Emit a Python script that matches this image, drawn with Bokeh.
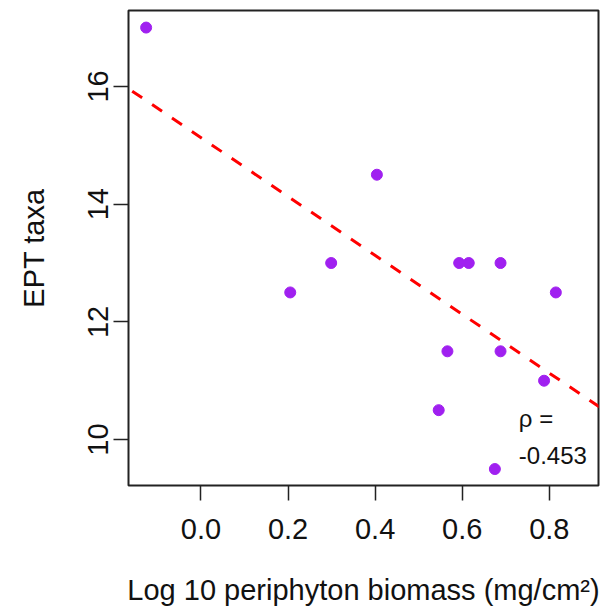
from bokeh.plotting import figure
from bokeh.models import Range1d, FixedTicker, Slope, Label
from bokeh.embed import file_html
from bokeh.resources import INLINE

# Data
biomass_log10 = [-0.126, 0.205, 0.299, 0.404, 0.546, 0.566, 0.593, 0.615,
                 0.675, 0.688, 0.688, 0.788, 0.815]
ept_taxa = [17.0, 12.5, 13.0, 14.5, 10.5, 11.5, 13.0, 13.0,
            9.5, 13.0, 11.5, 11.0, 12.5]

# Fitted trend line
fit_intercept = 15.13
fit_slope = -5.0

x_ticks = [0.0, 0.2, 0.4, 0.6, 0.8]
x_tick_labels = ["0.0", "0.2", "0.4", "0.6", "0.8"]
y_ticks = [10, 12, 14, 16]
y_tick_labels = ["10", "12", "14", "16"]

rho_label = "\u03c1 ="
rho_value = "-0.453"

FONT = "Liberation Sans"

p = figure(width=604, height=614, output_backend="svg", toolbar_location=None,
           x_range=Range1d(-0.1665, 0.913), y_range=Range1d(9.22, 17.29),
           min_border_left=128, min_border_right=6, min_border_top=10,
           min_border_bottom=129)

p.grid.visible = False
p.outline_line_color = "#222222"
p.outline_line_width = 2
p.background_fill_color = "white"
p.border_fill_color = "white"

p.add_layout(Slope(gradient=fit_slope, y_intercept=fit_intercept,
                   line_color="#FF0000", line_width=3, line_dash="12 12"))

p.scatter(biomass_log10, ept_taxa, size=11, color="#A020F0", line_color="#A020F0")

p.add_layout(Label(x=0.730, y=10.36, text=rho_label, text_font=FONT,
                   text_font_size="24px", text_baseline="middle",
                   text_color="#111111"))
p.add_layout(Label(x=0.730, y=9.73, text=rho_value, text_font=FONT,
                   text_font_size="24px", text_baseline="middle",
                   text_color="#111111"))

for ax in (p.xaxis[0], p.yaxis[0]):
    ax.axis_line_color = None
    ax.major_tick_in = 0
    ax.major_tick_out = 15
    ax.major_tick_line_color = "#222222"
    ax.major_tick_line_width = 1.5
    ax.minor_tick_line_color = None
    ax.major_label_text_font = FONT
    ax.major_label_text_font_size = "29px"
    ax.major_label_text_color = "#111111"
    ax.axis_label_text_font = FONT
    ax.axis_label_text_font_size = "29px"
    ax.axis_label_text_font_style = "normal"
    ax.axis_label_text_color = "#111111"

p.xaxis.ticker = FixedTicker(ticks=x_ticks)
p.xaxis.major_label_overrides = dict(zip(x_ticks, x_tick_labels))
p.yaxis.ticker = FixedTicker(ticks=y_ticks)
p.yaxis.major_label_overrides = dict(zip(y_ticks, y_tick_labels))
p.yaxis.major_label_orientation = "parallel"

p.xaxis.axis_label = "Log 10 periphyton biomass (mg/cm\u00b2)"
p.yaxis.axis_label = "EPT taxa"
p.xaxis.major_label_standoff = 18
p.yaxis.major_label_standoff = 5
p.xaxis.axis_label_standoff = 32
p.yaxis.axis_label_standoff = 36

open("out.html", "w").write(file_html(p, INLINE))
